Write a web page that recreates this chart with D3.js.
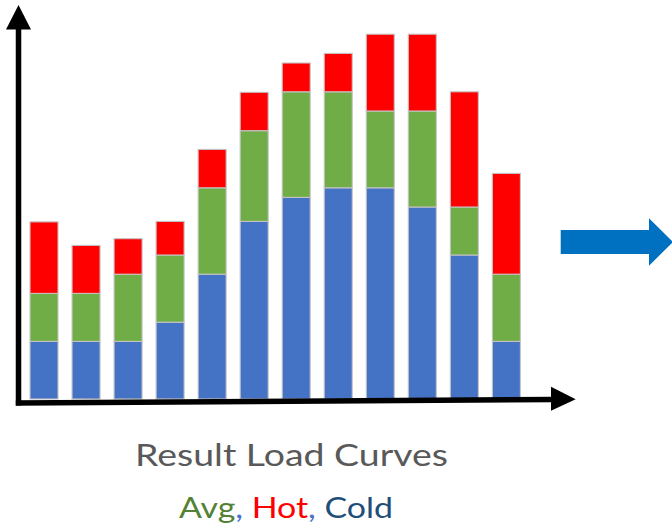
<!DOCTYPE html>
<html>
<head>
<meta charset="utf-8">
<script src="https://cdn.jsdelivr.net/npm/d3@7/dist/d3.min.js"></script>
<style>
  html, body { margin: 0; padding: 0; background: #fff; }
  svg { display: block; }
</style>
</head>
<body>
<svg id="chart" width="672" height="531"></svg>
<script>
// Hourly-style load profile: twelve periods, stacked Cold / Avg / Hot components
const periods = ["P1","P2","P3","P4","P5","P6","P7","P8","P9","P10","P11","P12"];
const coldLoad = [6, 6, 6, 8, 13, 18.5, 21, 22, 22, 20, 15, 6];
const avgLoad  = [5, 5, 7, 7, 9, 9.45, 11, 10, 8, 10, 5, 7];
const hotLoad  = [7.45, 5, 3.7, 3.5, 4, 4, 3, 4, 8, 8, 12, 10.5];
const seriesKeys = ["cold", "avg", "hot"];
const seriesColors = { cold: "#4472C4", avg: "#70AD47", hot: "#FF0000" };

const titleText = "Result Load Curves";
const legendParts = [
  { text: "Avg", color: "#548235" },
  { text: ", ", color: "#4472C4" },
  { text: "Hot", color: "#FF0000" },
  { text: ", ", color: "#4472C4" },
  { text: "Cold", color: "#1F4E79" }
];

const svg = d3.select("#chart");

const rows = periods.map((p, i) => ({ period: p, cold: coldLoad[i], avg: avgLoad[i], hot: hotLoad[i] }));
const stack = d3.stack().keys(seriesKeys)(rows);

const x = d3.scaleBand()
  .domain(periods)
  .range([23, 527.4])
  .paddingInner(0.334)
  .paddingOuter(0.167);

const y = d3.scaleLinear()
  .domain([0, 38])
  .range([399, 34.2]);

// stacked bars
svg.append("g")
  .selectAll("g")
  .data(stack)
  .join("g")
  .attr("fill", d => seriesColors[d.key])
  .selectAll("rect")
  .data(d => d)
  .join("rect")
  .attr("x", d => x(d.data.period))
  .attr("y", d => y(d[1]))
  .attr("width", x.bandwidth())
  .attr("height", d => y(d[0]) - y(d[1]))
  .attr("stroke", "#C4C4C4")
  .attr("stroke-width", 1.1);

// axes drawn as heavy arrows
const axes = svg.append("g");
axes.append("line")
  .attr("x1", 18.5).attr("y1", 405.5)
  .attr("x2", 18.5).attr("y2", 26)
  .attr("stroke", "#000").attr("stroke-width", 5.5);
axes.append("path")
  .attr("d", "M18.5,5 L31,29.5 L6,29.5 Z")
  .attr("fill", "#000");
axes.append("line")
  .attr("x1", 15.8).attr("y1", 403)
  .attr("x2", 554).attr("y2", 399.4)
  .attr("stroke", "#000").attr("stroke-width", 5.5);
axes.append("path")
  .attr("d", "M575.7,399.3 L551,386.7 L551,410.7 Z")
  .attr("fill", "#000");

// blue block arrow on the right
svg.append("path")
  .attr("d", "M560.7,230 L649,230 L649,218.3 L673,242 L649,265.7 L649,254 L560.7,254 Z")
  .attr("fill", "#0070C0");

// caption
const fontFam = "Lato, 'Open Sans', sans-serif";
svg.append("text")
  .attr("x", 135).attr("y", 466)
  .attr("font-family", fontFam)
  .attr("font-size", 30.5)
  .attr("fill", "#595959")
  .attr("textLength", 313)
  .attr("lengthAdjust", "spacingAndGlyphs")
  .text(titleText);

const legend = svg.append("text")
  .attr("x", 179).attr("y", 517.5)
  .attr("font-family", fontFam)
  .attr("font-size", 28)
  .attr("textLength", 214)
  .attr("lengthAdjust", "spacingAndGlyphs")
  .attr("xml:space", "preserve")
  .style("white-space", "pre");
legend.selectAll("tspan")
  .data(legendParts)
  .join("tspan")
  .attr("fill", d => d.color)
  .text(d => d.text);
</script>
</body>
</html>
